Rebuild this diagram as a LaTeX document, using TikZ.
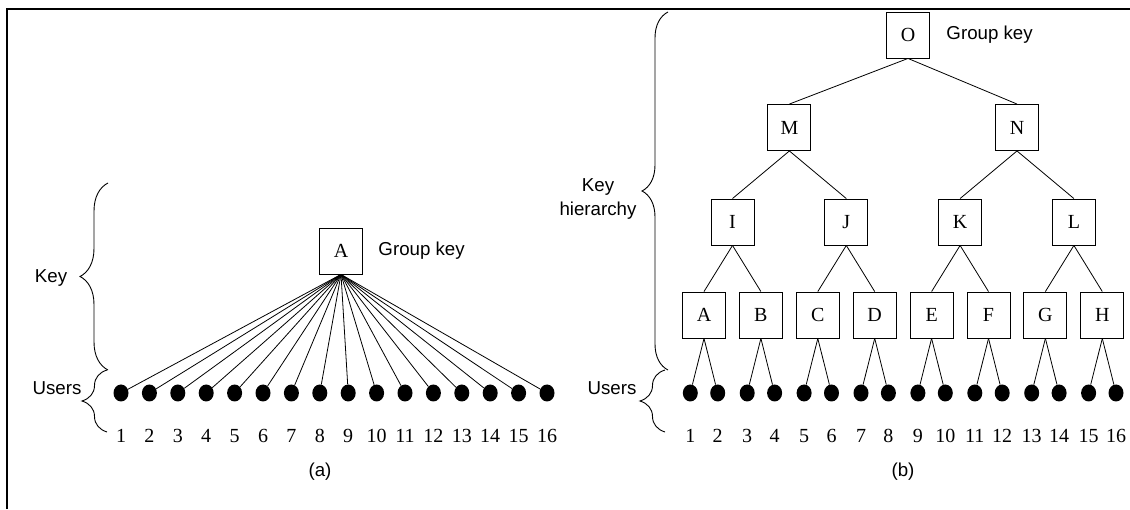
\documentclass[tikz,border=0pt]{standalone}
\usepackage{fontspec}
\setmainfont{Liberation Serif}
\setsansfont{Liberation Sans}
\usetikzlibrary{positioning,shapes.geometric,decorations.pathreplacing}

\tikzset{
    keybox/.style={rectangle, draw, line width=0.9pt, minimum width=43pt, minimum height=46pt, inner sep=0pt, font=\fontsize{20}{22}\selectfont},
    user/.style={ellipse, fill=black, minimum width=15pt, minimum height=17pt, inner sep=0pt},
    conn/.style={line width=0.8pt},
    txt/.style={font=\sffamily\fontsize{18.7}{24}\selectfont},
    num/.style={font=\fontsize{20}{22}\selectfont},
    kbrace/.style={decorate, decoration={brace, amplitude=#1}, line width=0.9pt}
}

\begin{document}
\begin{tikzpicture}[x=1pt, y=1pt]
    \useasboundingbox (0,0) rectangle (1130,509);
    \draw[line width=1.5pt] (7,0) -- (7,500) -- (1130,500);

    % (a) one group key for all users
    \node (gA) [keybox] at (341,258) {A};
    \node [txt, right=12pt of gA] {Group key};
    \foreach \i in {1,...,16} {
        \node (ua\i) [user] at ({121+28.4*(\i-1)},116) {};
        \node [num] at ({121+28.4*(\i-1)},73) {\i};
        \draw[conn] (gA.south) -- (ua\i);
    }
    \draw[kbrace=28] (108,139) -- (108,326);
    \node [txt] at (51,231) {Key};
    \draw[kbrace=25] (107,77) -- (107,139);
    \node [txt] at (57,121) {Users};
    \node [txt] at (320,37) {(a)};

    % (b) key hierarchy
    \foreach \n [count=\i] in {A,...,H} {
        \node (b\n) [keybox] at ({704+56.9*(\i-1)},194) {\n};
    }
    \foreach \n [count=\i] in {I,J,K,L} {
        \node (b\n) [keybox] at ({732.5+113.8*(\i-1)},287) {\n};
    }
    \node (bM) [keybox] at (789.4,381.5) {M};
    \node (bN) [keybox] at (1017,381.5) {N};
    \node (bO) [keybox] at (908,474) {O};
    \node [txt, right=13pt of bO] {Group key};

    \foreach \p/\c/\d in {I/A/B, J/C/D, K/E/F, L/G/H, M/I/J, N/K/L, O/M/N} {
        \draw[conn] (b\p.south) -- (b\c.north);
        \draw[conn] (b\p.south) -- (b\d.north);
    }
    \foreach \n [count=\i] in {A,...,H} {
        \pgfmathtruncatemacro{\ul}{2*\i-1}
        \pgfmathtruncatemacro{\ur}{2*\i}
        \node (ub\ul) [user] at ({704+56.9*(\i-1)-13.7},116) {};
        \node (ub\ur) [user] at ({704+56.9*(\i-1)+13.7},116) {};
        \node [num] at ({704+56.9*(\i-1)-13.7},73) {\ul};
        \node [num] at ({704+56.9*(\i-1)+13.7},73) {\ur};
        \draw[conn] (b\n.south) -- (ub\ul);
        \draw[conn] (b\n.south) -- (ub\ur);
    }
    \draw[kbrace=26] (668,139) -- (668,497);
    \node [txt, align=center] at (598,310) {Key\\hierarchy};
    \draw[kbrace=25] (665,77) -- (665,139);
    \node [txt] at (612,121) {Users};
    \node [txt] at (903,37) {(b)};
\end{tikzpicture}
\end{document}
